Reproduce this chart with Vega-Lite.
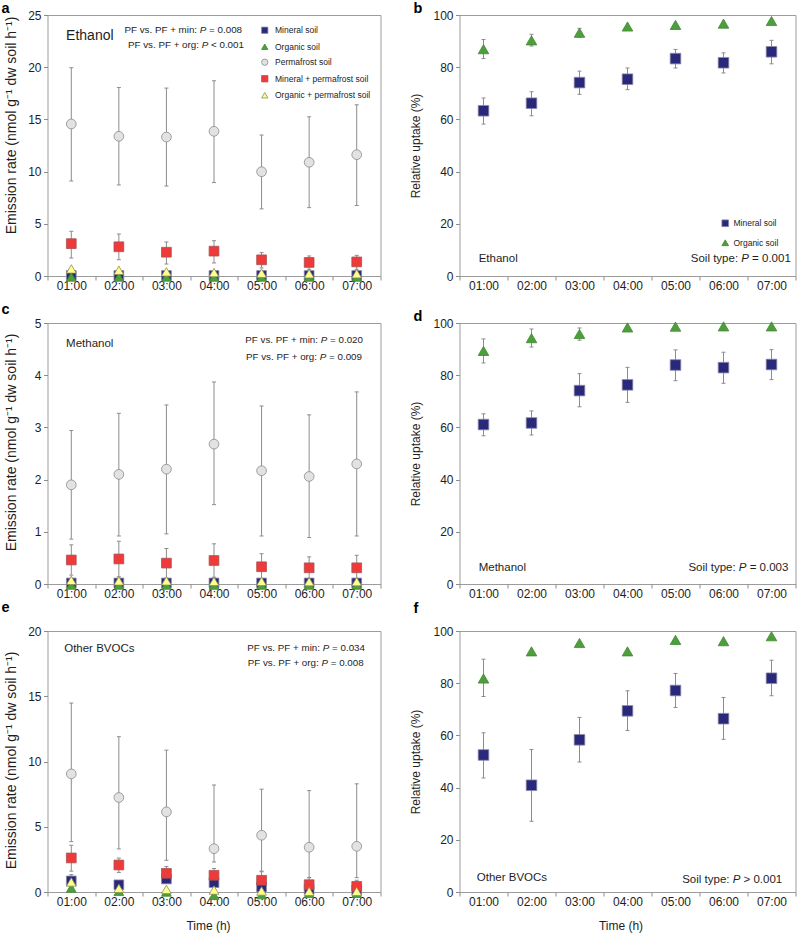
{
  "$schema": "https://vega.github.io/schema/vega-lite/v6.json",
  "padding": {"left": 0.5, "top": 0, "right": 4, "bottom": 2},
  "background": "white",
  "config": {
    "font": "Liberation Sans",
    "view": {"stroke": "#9c9c9c", "strokeWidth": 1},
    "axis": {"domain": false, "grid": false, "ticks": true, "tickColor": "#8c8c8c", "tickSize": 4, "tickWidth": 1, "labelFontSize": 12, "labelColor": "#1e1e1e", "labelPadding": 2.5, "titleFontSize": 12, "titleFontWeight": "normal", "titleColor": "#1e1e1e"},
    "text": {"color": "#1e1e1e", "font": "Liberation Sans"}
  },
  "datasets": {
    "pts": [
      {"panel":"a","series":"Mineral soil","hour":"01:00","mean":0.05,"lo":null,"hi":null},
      {"panel":"a","series":"Mineral soil","hour":"02:00","mean":0.05,"lo":null,"hi":null},
      {"panel":"a","series":"Mineral soil","hour":"03:00","mean":0.05,"lo":null,"hi":null},
      {"panel":"a","series":"Mineral soil","hour":"04:00","mean":0.05,"lo":null,"hi":null},
      {"panel":"a","series":"Mineral soil","hour":"05:00","mean":0.05,"lo":null,"hi":null},
      {"panel":"a","series":"Mineral soil","hour":"06:00","mean":0.05,"lo":null,"hi":null},
      {"panel":"a","series":"Mineral soil","hour":"07:00","mean":0.05,"lo":null,"hi":null},
      {"panel":"a","series":"Organic soil","hour":"01:00","mean":-0.1,"lo":null,"hi":null},
      {"panel":"a","series":"Organic soil","hour":"02:00","mean":-0.1,"lo":null,"hi":null},
      {"panel":"a","series":"Organic soil","hour":"03:00","mean":-0.1,"lo":null,"hi":null},
      {"panel":"a","series":"Organic soil","hour":"04:00","mean":-0.1,"lo":null,"hi":null},
      {"panel":"a","series":"Organic soil","hour":"05:00","mean":-0.1,"lo":null,"hi":null},
      {"panel":"a","series":"Organic soil","hour":"06:00","mean":-0.1,"lo":null,"hi":null},
      {"panel":"a","series":"Organic soil","hour":"07:00","mean":-0.1,"lo":null,"hi":null},
      {"panel":"a","series":"Permafrost soil","hour":"01:00","mean":14.56,"lo":9.1,"hi":19.95},
      {"panel":"a","series":"Permafrost soil","hour":"02:00","mean":13.38,"lo":8.72,"hi":18.05},
      {"panel":"a","series":"Permafrost soil","hour":"03:00","mean":13.31,"lo":8.62,"hi":18.0},
      {"panel":"a","series":"Permafrost soil","hour":"04:00","mean":13.86,"lo":8.95,"hi":18.7},
      {"panel":"a","series":"Permafrost soil","hour":"05:00","mean":9.99,"lo":6.43,"hi":13.5},
      {"panel":"a","series":"Permafrost soil","hour":"06:00","mean":10.89,"lo":6.55,"hi":15.25},
      {"panel":"a","series":"Permafrost soil","hour":"07:00","mean":11.62,"lo":6.75,"hi":16.4},
      {"panel":"a","series":"Mineral + permafrost soil","hour":"01:00","mean":3.1,"lo":1.72,"hi":4.28},
      {"panel":"a","series":"Mineral + permafrost soil","hour":"02:00","mean":2.8,"lo":1.56,"hi":4.02},
      {"panel":"a","series":"Mineral + permafrost soil","hour":"03:00","mean":2.28,"lo":1.15,"hi":3.26},
      {"panel":"a","series":"Mineral + permafrost soil","hour":"04:00","mean":2.38,"lo":1.25,"hi":3.38},
      {"panel":"a","series":"Mineral + permafrost soil","hour":"05:00","mean":1.55,"lo":0.77,"hi":2.24},
      {"panel":"a","series":"Mineral + permafrost soil","hour":"06:00","mean":1.3,"lo":0.64,"hi":1.92},
      {"panel":"a","series":"Mineral + permafrost soil","hour":"07:00","mean":1.35,"lo":0.64,"hi":1.98},
      {"panel":"a","series":"Organic + permafrost soil","hour":"01:00","mean":0.68,"lo":null,"hi":null},
      {"panel":"a","series":"Organic + permafrost soil","hour":"02:00","mean":0.55,"lo":null,"hi":null},
      {"panel":"a","series":"Organic + permafrost soil","hour":"03:00","mean":0.4,"lo":null,"hi":null},
      {"panel":"a","series":"Organic + permafrost soil","hour":"04:00","mean":0.33,"lo":null,"hi":null},
      {"panel":"a","series":"Organic + permafrost soil","hour":"05:00","mean":0.27,"lo":null,"hi":null},
      {"panel":"a","series":"Organic + permafrost soil","hour":"06:00","mean":0.22,"lo":null,"hi":null},
      {"panel":"a","series":"Organic + permafrost soil","hour":"07:00","mean":0.22,"lo":null,"hi":null},

      {"panel":"b","series":"Mineral soil","hour":"01:00","mean":63.3,"lo":58.2,"hi":68.2},
      {"panel":"b","series":"Mineral soil","hour":"02:00","mean":66.2,"lo":61.4,"hi":70.6},
      {"panel":"b","series":"Mineral soil","hour":"03:00","mean":74.1,"lo":69.6,"hi":78.5},
      {"panel":"b","series":"Mineral soil","hour":"04:00","mean":75.4,"lo":71.4,"hi":79.7},
      {"panel":"b","series":"Mineral soil","hour":"05:00","mean":83.3,"lo":79.7,"hi":86.8},
      {"panel":"b","series":"Mineral soil","hour":"06:00","mean":81.7,"lo":77.8,"hi":85.5},
      {"panel":"b","series":"Mineral soil","hour":"07:00","mean":85.9,"lo":81.3,"hi":90.3},
      {"panel":"b","series":"Organic soil","hour":"01:00","mean":86.9,"lo":83.3,"hi":90.6},
      {"panel":"b","series":"Organic soil","hour":"02:00","mean":90.3,"lo":88.1,"hi":92.6},
      {"panel":"b","series":"Organic soil","hour":"03:00","mean":93.2,"lo":91.5,"hi":94.9},
      {"panel":"b","series":"Organic soil","hour":"04:00","mean":95.6,"lo":null,"hi":null},
      {"panel":"b","series":"Organic soil","hour":"05:00","mean":96.2,"lo":null,"hi":null},
      {"panel":"b","series":"Organic soil","hour":"06:00","mean":96.7,"lo":null,"hi":null},
      {"panel":"b","series":"Organic soil","hour":"07:00","mean":97.7,"lo":null,"hi":null},

      {"panel":"c","series":"Mineral soil","hour":"01:00","mean":0.02,"lo":null,"hi":null},
      {"panel":"c","series":"Mineral soil","hour":"02:00","mean":0.02,"lo":null,"hi":null},
      {"panel":"c","series":"Mineral soil","hour":"03:00","mean":0.02,"lo":null,"hi":null},
      {"panel":"c","series":"Mineral soil","hour":"04:00","mean":0.02,"lo":null,"hi":null},
      {"panel":"c","series":"Mineral soil","hour":"05:00","mean":0.02,"lo":null,"hi":null},
      {"panel":"c","series":"Mineral soil","hour":"06:00","mean":0.02,"lo":null,"hi":null},
      {"panel":"c","series":"Mineral soil","hour":"07:00","mean":0.02,"lo":null,"hi":null},
      {"panel":"c","series":"Organic soil","hour":"01:00","mean":-0.02,"lo":null,"hi":null},
      {"panel":"c","series":"Organic soil","hour":"02:00","mean":-0.02,"lo":null,"hi":null},
      {"panel":"c","series":"Organic soil","hour":"03:00","mean":-0.02,"lo":null,"hi":null},
      {"panel":"c","series":"Organic soil","hour":"04:00","mean":-0.02,"lo":null,"hi":null},
      {"panel":"c","series":"Organic soil","hour":"05:00","mean":-0.02,"lo":null,"hi":null},
      {"panel":"c","series":"Organic soil","hour":"06:00","mean":-0.02,"lo":null,"hi":null},
      {"panel":"c","series":"Organic soil","hour":"07:00","mean":-0.02,"lo":null,"hi":null},
      {"panel":"c","series":"Permafrost soil","hour":"01:00","mean":1.9,"lo":0.86,"hi":2.94},
      {"panel":"c","series":"Permafrost soil","hour":"02:00","mean":2.1,"lo":0.92,"hi":3.27},
      {"panel":"c","series":"Permafrost soil","hour":"03:00","mean":2.2,"lo":0.96,"hi":3.43},
      {"panel":"c","series":"Permafrost soil","hour":"04:00","mean":2.68,"lo":1.52,"hi":3.87},
      {"panel":"c","series":"Permafrost soil","hour":"05:00","mean":2.17,"lo":0.92,"hi":3.41},
      {"panel":"c","series":"Permafrost soil","hour":"06:00","mean":2.06,"lo":0.89,"hi":3.24},
      {"panel":"c","series":"Permafrost soil","hour":"07:00","mean":2.3,"lo":0.92,"hi":3.68},
      {"panel":"c","series":"Mineral + permafrost soil","hour":"01:00","mean":0.46,"lo":0.17,"hi":0.75},
      {"panel":"c","series":"Mineral + permafrost soil","hour":"02:00","mean":0.48,"lo":0.14,"hi":0.82},
      {"panel":"c","series":"Mineral + permafrost soil","hour":"03:00","mean":0.4,"lo":0.11,"hi":0.68},
      {"panel":"c","series":"Mineral + permafrost soil","hour":"04:00","mean":0.45,"lo":0.13,"hi":0.77},
      {"panel":"c","series":"Mineral + permafrost soil","hour":"05:00","mean":0.33,"lo":0.1,"hi":0.58},
      {"panel":"c","series":"Mineral + permafrost soil","hour":"06:00","mean":0.31,"lo":0.09,"hi":0.52},
      {"panel":"c","series":"Mineral + permafrost soil","hour":"07:00","mean":0.31,"lo":0.08,"hi":0.55},
      {"panel":"c","series":"Organic + permafrost soil","hour":"01:00","mean":0.07,"lo":null,"hi":null},
      {"panel":"c","series":"Organic + permafrost soil","hour":"02:00","mean":0.06,"lo":null,"hi":null},
      {"panel":"c","series":"Organic + permafrost soil","hour":"03:00","mean":0.06,"lo":null,"hi":null},
      {"panel":"c","series":"Organic + permafrost soil","hour":"04:00","mean":0.05,"lo":null,"hi":null},
      {"panel":"c","series":"Organic + permafrost soil","hour":"05:00","mean":0.05,"lo":null,"hi":null},
      {"panel":"c","series":"Organic + permafrost soil","hour":"06:00","mean":0.045,"lo":null,"hi":null},
      {"panel":"c","series":"Organic + permafrost soil","hour":"07:00","mean":0.045,"lo":null,"hi":null},

      {"panel":"d","series":"Mineral soil","hour":"01:00","mean":61.1,"lo":56.8,"hi":65.2},
      {"panel":"d","series":"Mineral soil","hour":"02:00","mean":61.7,"lo":57.1,"hi":66.3},
      {"panel":"d","series":"Mineral soil","hour":"03:00","mean":74.1,"lo":67.9,"hi":80.6},
      {"panel":"d","series":"Mineral soil","hour":"04:00","mean":76.3,"lo":69.6,"hi":83.0},
      {"panel":"d","series":"Mineral soil","hour":"05:00","mean":83.9,"lo":77.9,"hi":89.7},
      {"panel":"d","series":"Mineral soil","hour":"06:00","mean":82.9,"lo":76.9,"hi":88.8},
      {"panel":"d","series":"Mineral soil","hour":"07:00","mean":84.1,"lo":78.3,"hi":89.8},
      {"panel":"d","series":"Organic soil","hour":"01:00","mean":89.3,"lo":84.7,"hi":93.9},
      {"panel":"d","series":"Organic soil","hour":"02:00","mean":94.2,"lo":90.8,"hi":97.7},
      {"panel":"d","series":"Organic soil","hour":"03:00","mean":95.8,"lo":93.4,"hi":98.1},
      {"panel":"d","series":"Organic soil","hour":"04:00","mean":98.3,"lo":null,"hi":null},
      {"panel":"d","series":"Organic soil","hour":"05:00","mean":98.6,"lo":null,"hi":null},
      {"panel":"d","series":"Organic soil","hour":"06:00","mean":98.7,"lo":null,"hi":null},
      {"panel":"d","series":"Organic soil","hour":"07:00","mean":98.7,"lo":null,"hi":null},

      {"panel":"e","series":"Mineral soil","hour":"01:00","mean":0.85,"lo":0.4,"hi":1.33},
      {"panel":"e","series":"Mineral soil","hour":"02:00","mean":0.55,"lo":null,"hi":null},
      {"panel":"e","series":"Mineral soil","hour":"03:00","mean":1.0,"lo":null,"hi":null},
      {"panel":"e","series":"Mineral soil","hour":"04:00","mean":0.72,"lo":null,"hi":null},
      {"panel":"e","series":"Mineral soil","hour":"05:00","mean":0.38,"lo":null,"hi":null},
      {"panel":"e","series":"Mineral soil","hour":"06:00","mean":0.2,"lo":null,"hi":null},
      {"panel":"e","series":"Mineral soil","hour":"07:00","mean":0.15,"lo":null,"hi":null},
      {"panel":"e","series":"Organic soil","hour":"01:00","mean":0.3,"lo":null,"hi":null},
      {"panel":"e","series":"Organic soil","hour":"02:00","mean":0.05,"lo":null,"hi":null},
      {"panel":"e","series":"Organic soil","hour":"03:00","mean":0.0,"lo":null,"hi":null},
      {"panel":"e","series":"Organic soil","hour":"04:00","mean":-0.25,"lo":null,"hi":null},
      {"panel":"e","series":"Organic soil","hour":"05:00","mean":-0.2,"lo":null,"hi":null},
      {"panel":"e","series":"Organic soil","hour":"06:00","mean":-0.1,"lo":null,"hi":null},
      {"panel":"e","series":"Organic soil","hour":"07:00","mean":-0.1,"lo":null,"hi":null},
      {"panel":"e","series":"Permafrost soil","hour":"01:00","mean":9.05,"lo":3.86,"hi":14.48},
      {"panel":"e","series":"Permafrost soil","hour":"02:00","mean":7.24,"lo":3.3,"hi":11.9},
      {"panel":"e","series":"Permafrost soil","hour":"03:00","mean":6.14,"lo":2.43,"hi":10.87},
      {"panel":"e","series":"Permafrost soil","hour":"04:00","mean":3.32,"lo":2.3,"hi":8.2},
      {"panel":"e","series":"Permafrost soil","hour":"05:00","mean":4.35,"lo":1.6,"hi":7.88},
      {"panel":"e","series":"Permafrost soil","hour":"06:00","mean":3.43,"lo":1.1,"hi":7.77},
      {"panel":"e","series":"Permafrost soil","hour":"07:00","mean":3.5,"lo":1.1,"hi":8.29},
      {"panel":"e","series":"Mineral + permafrost soil","hour":"01:00","mean":2.61,"lo":1.6,"hi":3.58},
      {"panel":"e","series":"Mineral + permafrost soil","hour":"02:00","mean":2.07,"lo":1.5,"hi":2.6},
      {"panel":"e","series":"Mineral + permafrost soil","hour":"03:00","mean":1.43,"lo":0.9,"hi":1.95},
      {"panel":"e","series":"Mineral + permafrost soil","hour":"04:00","mean":1.28,"lo":0.8,"hi":1.8},
      {"panel":"e","series":"Mineral + permafrost soil","hour":"05:00","mean":0.9,"lo":0.4,"hi":1.55},
      {"panel":"e","series":"Mineral + permafrost soil","hour":"06:00","mean":0.56,"lo":0.2,"hi":1.1},
      {"panel":"e","series":"Mineral + permafrost soil","hour":"07:00","mean":0.43,"lo":0.1,"hi":0.9},
      {"panel":"e","series":"Organic + permafrost soil","hour":"01:00","mean":0.77,"lo":null,"hi":null},
      {"panel":"e","series":"Organic + permafrost soil","hour":"02:00","mean":0.28,"lo":null,"hi":null},
      {"panel":"e","series":"Organic + permafrost soil","hour":"03:00","mean":0.2,"lo":null,"hi":null},
      {"panel":"e","series":"Organic + permafrost soil","hour":"04:00","mean":0.15,"lo":null,"hi":null},
      {"panel":"e","series":"Organic + permafrost soil","hour":"05:00","mean":0.08,"lo":null,"hi":null},
      {"panel":"e","series":"Organic + permafrost soil","hour":"06:00","mean":0.05,"lo":null,"hi":null},
      {"panel":"e","series":"Organic + permafrost soil","hour":"07:00","mean":0.05,"lo":null,"hi":null},

      {"panel":"f","series":"Mineral soil","hour":"01:00","mean":52.5,"lo":43.7,"hi":61.0},
      {"panel":"f","series":"Mineral soil","hour":"02:00","mean":40.9,"lo":27.1,"hi":54.6},
      {"panel":"f","series":"Mineral soil","hour":"03:00","mean":58.3,"lo":49.8,"hi":66.9},
      {"panel":"f","series":"Mineral soil","hour":"04:00","mean":69.4,"lo":61.9,"hi":77.1},
      {"panel":"f","series":"Mineral soil","hour":"05:00","mean":77.2,"lo":70.7,"hi":83.7},
      {"panel":"f","series":"Mineral soil","hour":"06:00","mean":66.4,"lo":58.5,"hi":74.5},
      {"panel":"f","series":"Mineral soil","hour":"07:00","mean":81.9,"lo":75.2,"hi":88.8},
      {"panel":"f","series":"Organic soil","hour":"01:00","mean":81.8,"lo":74.9,"hi":89.2},
      {"panel":"f","series":"Organic soil","hour":"02:00","mean":92.2,"lo":null,"hi":null},
      {"panel":"f","series":"Organic soil","hour":"03:00","mean":95.4,"lo":null,"hi":null},
      {"panel":"f","series":"Organic soil","hour":"04:00","mean":92.2,"lo":null,"hi":null},
      {"panel":"f","series":"Organic soil","hour":"05:00","mean":96.6,"lo":null,"hi":null},
      {"panel":"f","series":"Organic soil","hour":"06:00","mean":96.1,"lo":null,"hi":null},
      {"panel":"f","series":"Organic soil","hour":"07:00","mean":98.0,"lo":null,"hi":null}
    ]
  },
  "columns": 2,
  "bounds": "flush",
  "align": "each",
  "spacing": {"row": 47, "column": 79},
  "resolve": {"scale": {"shape": "independent", "fill": "independent", "stroke": "independent"}},
  "concat": [
    {
      "width": 333, "height": 261,
      "title": {"text": "a", "anchor": "start", "frame": "group", "dx": -46, "offset": -18.5, "fontSize": 14.5, "fontWeight": "bold", "baseline": "alphabetic", "color": "#000000"},
      "data": {"name": "pts"},
      "layer": [
        {"transform": [{"filter": "datum.panel === 'a'"}], "mark": {"type": "rule", "color": "#8c8c8c", "strokeWidth": 1},
         "encoding": {"x": {"field": "hour", "type": "ordinal"}, "y": {"field": "lo", "type": "quantitative"}, "y2": {"field": "hi"}}},
        {"transform": [{"filter": "datum.panel === 'a'"}], "mark": {"type": "tick", "orient": "horizontal", "size": 4, "thickness": 1, "color": "#8c8c8c", "opacity": 1},
         "encoding": {"x": {"field": "hour", "type": "ordinal"}, "y": {"field": "lo", "type": "quantitative"}}},
        {"transform": [{"filter": "datum.panel === 'a'"}], "mark": {"type": "tick", "orient": "horizontal", "size": 4, "thickness": 1, "color": "#8c8c8c", "opacity": 1},
         "encoding": {"x": {"field": "hour", "type": "ordinal"}, "y": {"field": "hi", "type": "quantitative"}}},
        {"transform": [{"filter": "datum.panel === 'a'"}], "mark": {"type": "point", "filled": true, "opacity": 1, "strokeWidth": 0.8, "size": 95},
         "encoding": {
           "x": {"field": "hour", "type": "ordinal", "scale": {"type": "band", "domain": ["01:00","02:00","03:00","04:00","05:00","06:00","07:00"], "paddingInner": 0, "paddingOuter": 0},
                 "axis": {"tickBand": "extent", "ticks": true, "tickSize": 4, "labelAngle": 0, "labelAlign": "center", "title": null, "labelPadding": 5}},
           "y": {"field": "mean", "type": "quantitative", "scale": {"domain": [0, 25], "nice": false, "zero": false},
                 "axis": {"values": [0,5,10,15,20,25], "title": "Emission rate (nmol g⁻¹ dw soil h⁻¹)", "titleFontSize": 14, "titleY": 110, "titlePadding": 9.5}},
           "shape": {"field": "series", "type": "nominal", "scale": {"domain": ["Mineral soil","Organic soil","Permafrost soil","Mineral + permafrost soil","Organic + permafrost soil"], "range": ["square","triangle-up","circle","square","triangle-up"]},
                     "legend": {"orient": "none", "legendX": 213, "legendY": 11, "title": null, "labelFontSize": 8.5, "labelColor": "#222222", "symbolSize": 40, "rowPadding": 5.5, "padding": 0, "labelOffset": 6, "symbolStrokeWidth": 0.8}},
           "fill": {"field": "series", "type": "nominal", "scale": {"domain": ["Mineral soil","Organic soil","Permafrost soil","Mineral + permafrost soil","Organic + permafrost soil"], "range": ["#29287a","#4f9e3e","#e2e2e2","#ee3a3a","#ffff8c"]},
                     "legend": {"orient": "none", "legendX": 213, "legendY": 11, "title": null, "labelFontSize": 8.5, "labelColor": "#222222", "symbolSize": 40, "rowPadding": 5.5, "padding": 0, "labelOffset": 6, "symbolStrokeWidth": 0.8}},
           "stroke": {"field": "series", "type": "nominal", "scale": {"domain": ["Mineral soil","Organic soil","Permafrost soil","Mineral + permafrost soil","Organic + permafrost soil"], "range": ["#8888aa","#3f8a30","#8a8a8a","#a85050","#8c8c5c"]},
                     "legend": {"orient": "none", "legendX": 213, "legendY": 11, "title": null, "labelFontSize": 8.5, "labelColor": "#222222", "symbolSize": 40, "rowPadding": 5.5, "padding": 0, "labelOffset": 6, "symbolStrokeWidth": 0.8}}
         }},
        {"data": {"values": [{"t": "Ethanol"}]}, "mark": {"type": "text", "align": "left", "baseline": "middle", "fontSize": 14, "dx": -5.2},
         "encoding": {"x": {"datum": "01:00", "type": "ordinal"}, "y": {"datum": 23.0, "type": "quantitative"}, "text": {"field": "t"}}},
        {"data": {"values": [{"t": "PF vs. PF + min:"}]}, "mark": {"type": "text", "align": "right", "baseline": "middle", "fontSize": 9.8, "dx": -16.9},
         "encoding": {"x": {"datum": "04:00", "type": "ordinal"}, "y": {"datum": 23.56, "type": "quantitative"}, "text": {"field": "t"}}},
        {"data": {"values": [{"t": "P"}]}, "mark": {"type": "text", "align": "center", "baseline": "middle", "fontSize": 9.8, "fontStyle": "italic", "dx": -10.9},
         "encoding": {"x": {"datum": "04:00", "type": "ordinal"}, "y": {"datum": 23.56, "type": "quantitative"}, "text": {"field": "t"}}},
        {"data": {"values": [{"t": "= 0.008"}]}, "mark": {"type": "text", "align": "left", "baseline": "middle", "fontSize": 9.8, "dx": -4.9},
         "encoding": {"x": {"datum": "04:00", "type": "ordinal"}, "y": {"datum": 23.56, "type": "quantitative"}, "text": {"field": "t"}}},
        {"data": {"values": [{"t": "PF vs. PF + org:"}]}, "mark": {"type": "text", "align": "right", "baseline": "middle", "fontSize": 9.8, "dx": -15.0},
         "encoding": {"x": {"datum": "04:00", "type": "ordinal"}, "y": {"datum": 22.13, "type": "quantitative"}, "text": {"field": "t"}}},
        {"data": {"values": [{"t": "P"}]}, "mark": {"type": "text", "align": "center", "baseline": "middle", "fontSize": 9.8, "fontStyle": "italic", "dx": -9.0},
         "encoding": {"x": {"datum": "04:00", "type": "ordinal"}, "y": {"datum": 22.13, "type": "quantitative"}, "text": {"field": "t"}}},
        {"data": {"values": [{"t": "< 0.001"}]}, "mark": {"type": "text", "align": "left", "baseline": "middle", "fontSize": 9.8, "dx": -3.0},
         "encoding": {"x": {"datum": "04:00", "type": "ordinal"}, "y": {"datum": 22.13, "type": "quantitative"}, "text": {"field": "t"}}}
      ]
    },
    {
      "width": 336, "height": 261,
      "title": {"text": "b", "anchor": "start", "frame": "group", "dx": -46, "offset": -18.5, "fontSize": 14.5, "fontWeight": "bold", "baseline": "alphabetic", "color": "#000000"},
      "data": {"name": "pts"},
      "layer": [
        {"transform": [{"filter": "datum.panel === 'b'"}], "mark": {"type": "rule", "color": "#8c8c8c", "strokeWidth": 1},
         "encoding": {"x": {"field": "hour", "type": "ordinal"}, "y": {"field": "lo", "type": "quantitative"}, "y2": {"field": "hi"}}},
        {"transform": [{"filter": "datum.panel === 'b'"}], "mark": {"type": "tick", "orient": "horizontal", "size": 4, "thickness": 1, "color": "#8c8c8c", "opacity": 1},
         "encoding": {"x": {"field": "hour", "type": "ordinal"}, "y": {"field": "lo", "type": "quantitative"}}},
        {"transform": [{"filter": "datum.panel === 'b'"}], "mark": {"type": "tick", "orient": "horizontal", "size": 4, "thickness": 1, "color": "#8c8c8c", "opacity": 1},
         "encoding": {"x": {"field": "hour", "type": "ordinal"}, "y": {"field": "hi", "type": "quantitative"}}},
        {"transform": [{"filter": "datum.panel === 'b'"}], "mark": {"type": "point", "filled": true, "opacity": 1, "strokeWidth": 0.8, "size": 112},
         "encoding": {
           "x": {"field": "hour", "type": "ordinal", "scale": {"type": "band", "domain": ["01:00","02:00","03:00","04:00","05:00","06:00","07:00"], "paddingInner": 0, "paddingOuter": 0},
                 "axis": {"tickBand": "extent", "ticks": true, "tickSize": 4, "labelAngle": 0, "labelAlign": "center", "title": null, "labelPadding": 5}},
           "y": {"field": "mean", "type": "quantitative", "scale": {"domain": [0, 100], "nice": false, "zero": false},
                 "axis": {"values": [0,20,40,60,80,100], "title": "Relative uptake (%)", "titlePadding": 10.5}},
           "shape": {"field": "series", "type": "nominal", "scale": {"domain": ["Mineral soil","Organic soil"], "range": ["square","triangle-up"]},
                     "legend": {"orient": "none", "legendX": 261.5, "legendY": 204, "title": null, "labelFontSize": 8.5, "labelColor": "#222222", "symbolSize": 45, "rowPadding": 8.5, "padding": 0, "labelOffset": 4, "symbolStrokeWidth": 0.8}},
           "fill": {"field": "series", "type": "nominal", "scale": {"domain": ["Mineral soil","Organic soil"], "range": ["#29287a","#4f9e3e"]},
                     "legend": {"orient": "none", "legendX": 261.5, "legendY": 204, "title": null, "labelFontSize": 8.5, "labelColor": "#222222", "symbolSize": 45, "rowPadding": 8.5, "padding": 0, "labelOffset": 4, "symbolStrokeWidth": 0.8}},
           "stroke": {"field": "series", "type": "nominal", "scale": {"domain": ["Mineral soil","Organic soil"], "range": ["#8888aa","#3f8a30"]},
                     "legend": {"orient": "none", "legendX": 261.5, "legendY": 204, "title": null, "labelFontSize": 8.5, "labelColor": "#222222", "symbolSize": 45, "rowPadding": 8.5, "padding": 0, "labelOffset": 4, "symbolStrokeWidth": 0.8}}
         }},
        {"data": {"values": [{"t": "Ethanol"}]}, "mark": {"type": "text", "align": "left", "baseline": "middle", "fontSize": 11.5, "dx": -4.8},
         "encoding": {"x": {"datum": "01:00", "type": "ordinal"}, "y": {"datum": 6.5, "type": "quantitative"}, "text": {"field": "t"}}},
        {"data": {"values": [{"t": "Soil type:"}]}, "mark": {"type": "text", "align": "right", "baseline": "middle", "fontSize": 11.5, "dx": 14.6},
         "encoding": {"x": {"datum": "06:00", "type": "ordinal"}, "y": {"datum": 6.5, "type": "quantitative"}, "text": {"field": "t"}}},
        {"data": {"values": [{"t": "P"}]}, "mark": {"type": "text", "align": "center", "baseline": "middle", "fontSize": 11.5, "fontStyle": "italic", "dx": 21.6},
         "encoding": {"x": {"datum": "06:00", "type": "ordinal"}, "y": {"datum": 6.5, "type": "quantitative"}, "text": {"field": "t"}}},
        {"data": {"values": [{"t": "= 0.001"}]}, "mark": {"type": "text", "align": "left", "baseline": "middle", "fontSize": 11.5, "dx": 28.6},
         "encoding": {"x": {"datum": "06:00", "type": "ordinal"}, "y": {"datum": 6.5, "type": "quantitative"}, "text": {"field": "t"}}}
      ]
    },
    {
      "width": 333, "height": 261,
      "title": {"text": "c", "anchor": "start", "frame": "group", "dx": -46, "offset": -11, "fontSize": 14.5, "fontWeight": "bold", "baseline": "alphabetic", "color": "#000000"},
      "data": {"name": "pts"},
      "layer": [
        {"transform": [{"filter": "datum.panel === 'c'"}], "mark": {"type": "rule", "color": "#8c8c8c", "strokeWidth": 1},
         "encoding": {"x": {"field": "hour", "type": "ordinal"}, "y": {"field": "lo", "type": "quantitative"}, "y2": {"field": "hi"}}},
        {"transform": [{"filter": "datum.panel === 'c'"}], "mark": {"type": "tick", "orient": "horizontal", "size": 4, "thickness": 1, "color": "#8c8c8c", "opacity": 1},
         "encoding": {"x": {"field": "hour", "type": "ordinal"}, "y": {"field": "lo", "type": "quantitative"}}},
        {"transform": [{"filter": "datum.panel === 'c'"}], "mark": {"type": "tick", "orient": "horizontal", "size": 4, "thickness": 1, "color": "#8c8c8c", "opacity": 1},
         "encoding": {"x": {"field": "hour", "type": "ordinal"}, "y": {"field": "hi", "type": "quantitative"}}},
        {"transform": [{"filter": "datum.panel === 'c'"}], "mark": {"type": "point", "filled": true, "opacity": 1, "strokeWidth": 0.8, "size": 95},
         "encoding": {
           "x": {"field": "hour", "type": "ordinal", "scale": {"type": "band", "domain": ["01:00","02:00","03:00","04:00","05:00","06:00","07:00"], "paddingInner": 0, "paddingOuter": 0},
                 "axis": {"tickBand": "extent", "ticks": true, "tickSize": 4, "labelAngle": 0, "labelAlign": "center", "title": null, "labelPadding": 5}},
           "y": {"field": "mean", "type": "quantitative", "scale": {"domain": [0, 5], "nice": false, "zero": false},
                 "axis": {"values": [0,1,2,3,4,5], "title": "Emission rate (nmol g⁻¹ dw soil h⁻¹)", "titleFontSize": 14, "titleY": 119, "titlePadding": 16}},
           "shape": {"field": "series", "type": "nominal", "scale": {"domain": ["Mineral soil","Organic soil","Permafrost soil","Mineral + permafrost soil","Organic + permafrost soil"], "range": ["square","triangle-up","circle","square","triangle-up"]}, "legend": null},
           "fill": {"field": "series", "type": "nominal", "scale": {"domain": ["Mineral soil","Organic soil","Permafrost soil","Mineral + permafrost soil","Organic + permafrost soil"], "range": ["#29287a","#4f9e3e","#e2e2e2","#ee3a3a","#ffff8c"]}, "legend": null},
           "stroke": {"field": "series", "type": "nominal", "scale": {"domain": ["Mineral soil","Organic soil","Permafrost soil","Mineral + permafrost soil","Organic + permafrost soil"], "range": ["#8888aa","#3f8a30","#8a8a8a","#a85050","#8c8c5c"]}, "legend": null}
         }},
        {"data": {"values": [{"t": "Methanol"}]}, "mark": {"type": "text", "align": "left", "baseline": "middle", "fontSize": 11.5, "dx": -5.2},
         "encoding": {"x": {"datum": "01:00", "type": "ordinal"}, "y": {"datum": 4.6, "type": "quantitative"}, "text": {"field": "t"}}},
        {"data": {"values": [{"t": "PF vs. PF + min:"}]}, "mark": {"type": "text", "align": "right", "baseline": "middle", "fontSize": 9.8, "dx": -38.7},
         "encoding": {"x": {"datum": "07:00", "type": "ordinal"}, "y": {"datum": 4.67, "type": "quantitative"}, "text": {"field": "t"}}},
        {"data": {"values": [{"t": "P"}]}, "mark": {"type": "text", "align": "center", "baseline": "middle", "fontSize": 9.8, "fontStyle": "italic", "dx": -32.7},
         "encoding": {"x": {"datum": "07:00", "type": "ordinal"}, "y": {"datum": 4.67, "type": "quantitative"}, "text": {"field": "t"}}},
        {"data": {"values": [{"t": "= 0.020"}]}, "mark": {"type": "text", "align": "left", "baseline": "middle", "fontSize": 9.8, "dx": -26.7},
         "encoding": {"x": {"datum": "07:00", "type": "ordinal"}, "y": {"datum": 4.67, "type": "quantitative"}, "text": {"field": "t"}}},
        {"data": {"values": [{"t": "PF vs. PF + org:"}]}, "mark": {"type": "text", "align": "right", "baseline": "middle", "fontSize": 9.8, "dx": -39.7},
         "encoding": {"x": {"datum": "07:00", "type": "ordinal"}, "y": {"datum": 4.35, "type": "quantitative"}, "text": {"field": "t"}}},
        {"data": {"values": [{"t": "P"}]}, "mark": {"type": "text", "align": "center", "baseline": "middle", "fontSize": 9.8, "fontStyle": "italic", "dx": -33.7},
         "encoding": {"x": {"datum": "07:00", "type": "ordinal"}, "y": {"datum": 4.35, "type": "quantitative"}, "text": {"field": "t"}}},
        {"data": {"values": [{"t": "= 0.009"}]}, "mark": {"type": "text", "align": "left", "baseline": "middle", "fontSize": 9.8, "dx": -27.7},
         "encoding": {"x": {"datum": "07:00", "type": "ordinal"}, "y": {"datum": 4.35, "type": "quantitative"}, "text": {"field": "t"}}}
      ]
    },
    {
      "width": 336, "height": 261,
      "title": {"text": "d", "anchor": "start", "frame": "group", "dx": -46, "offset": -18, "fontSize": 14.5, "fontWeight": "bold", "baseline": "alphabetic", "color": "#000000"},
      "data": {"name": "pts"},
      "layer": [
        {"transform": [{"filter": "datum.panel === 'd'"}], "mark": {"type": "rule", "color": "#8c8c8c", "strokeWidth": 1},
         "encoding": {"x": {"field": "hour", "type": "ordinal"}, "y": {"field": "lo", "type": "quantitative"}, "y2": {"field": "hi"}}},
        {"transform": [{"filter": "datum.panel === 'd'"}], "mark": {"type": "tick", "orient": "horizontal", "size": 4, "thickness": 1, "color": "#8c8c8c", "opacity": 1},
         "encoding": {"x": {"field": "hour", "type": "ordinal"}, "y": {"field": "lo", "type": "quantitative"}}},
        {"transform": [{"filter": "datum.panel === 'd'"}], "mark": {"type": "tick", "orient": "horizontal", "size": 4, "thickness": 1, "color": "#8c8c8c", "opacity": 1},
         "encoding": {"x": {"field": "hour", "type": "ordinal"}, "y": {"field": "hi", "type": "quantitative"}}},
        {"transform": [{"filter": "datum.panel === 'd'"}], "mark": {"type": "point", "filled": true, "opacity": 1, "strokeWidth": 0.8, "size": 112},
         "encoding": {
           "x": {"field": "hour", "type": "ordinal", "scale": {"type": "band", "domain": ["01:00","02:00","03:00","04:00","05:00","06:00","07:00"], "paddingInner": 0, "paddingOuter": 0},
                 "axis": {"tickBand": "extent", "ticks": true, "tickSize": 4, "labelAngle": 0, "labelAlign": "center", "title": null, "labelPadding": 5}},
           "y": {"field": "mean", "type": "quantitative", "scale": {"domain": [0, 100], "nice": false, "zero": false},
                 "axis": {"values": [0,20,40,60,80,100], "title": "Relative uptake (%)", "titlePadding": 10.5}},
           "shape": {"field": "series", "type": "nominal", "scale": {"domain": ["Mineral soil","Organic soil"], "range": ["square","triangle-up"]}, "legend": null},
           "fill": {"field": "series", "type": "nominal", "scale": {"domain": ["Mineral soil","Organic soil"], "range": ["#29287a","#4f9e3e"]}, "legend": null},
           "stroke": {"field": "series", "type": "nominal", "scale": {"domain": ["Mineral soil","Organic soil"], "range": ["#8888aa","#3f8a30"]}, "legend": null}
         }},
        {"data": {"values": [{"t": "Methanol"}]}, "mark": {"type": "text", "align": "left", "baseline": "middle", "fontSize": 11.5, "dx": -4.8},
         "encoding": {"x": {"datum": "01:00", "type": "ordinal"}, "y": {"datum": 6.1, "type": "quantitative"}, "text": {"field": "t"}}},
        {"data": {"values": [{"t": "Soil type:"}]}, "mark": {"type": "text", "align": "right", "baseline": "middle", "fontSize": 11.5, "dx": 12.2},
         "encoding": {"x": {"datum": "06:00", "type": "ordinal"}, "y": {"datum": 6.1, "type": "quantitative"}, "text": {"field": "t"}}},
        {"data": {"values": [{"t": "P"}]}, "mark": {"type": "text", "align": "center", "baseline": "middle", "fontSize": 11.5, "fontStyle": "italic", "dx": 19.2},
         "encoding": {"x": {"datum": "06:00", "type": "ordinal"}, "y": {"datum": 6.1, "type": "quantitative"}, "text": {"field": "t"}}},
        {"data": {"values": [{"t": "= 0.003"}]}, "mark": {"type": "text", "align": "left", "baseline": "middle", "fontSize": 11.5, "dx": 26.2},
         "encoding": {"x": {"datum": "06:00", "type": "ordinal"}, "y": {"datum": 6.1, "type": "quantitative"}, "text": {"field": "t"}}}
      ]
    },
    {
      "width": 333, "height": 261,
      "title": {"text": "e", "anchor": "start", "frame": "group", "dx": -46, "offset": -1, "fontSize": 14.5, "fontWeight": "bold", "baseline": "alphabetic", "color": "#000000"},
      "data": {"name": "pts"},
      "layer": [
        {"transform": [{"filter": "datum.panel === 'e'"}], "mark": {"type": "rule", "color": "#8c8c8c", "strokeWidth": 1},
         "encoding": {"x": {"field": "hour", "type": "ordinal"}, "y": {"field": "lo", "type": "quantitative"}, "y2": {"field": "hi"}}},
        {"transform": [{"filter": "datum.panel === 'e'"}], "mark": {"type": "tick", "orient": "horizontal", "size": 4, "thickness": 1, "color": "#8c8c8c", "opacity": 1},
         "encoding": {"x": {"field": "hour", "type": "ordinal"}, "y": {"field": "lo", "type": "quantitative"}}},
        {"transform": [{"filter": "datum.panel === 'e'"}], "mark": {"type": "tick", "orient": "horizontal", "size": 4, "thickness": 1, "color": "#8c8c8c", "opacity": 1},
         "encoding": {"x": {"field": "hour", "type": "ordinal"}, "y": {"field": "hi", "type": "quantitative"}}},
        {"transform": [{"filter": "datum.panel === 'e'"}], "mark": {"type": "point", "filled": true, "opacity": 1, "strokeWidth": 0.8, "size": 95},
         "encoding": {
           "x": {"field": "hour", "type": "ordinal", "scale": {"type": "band", "domain": ["01:00","02:00","03:00","04:00","05:00","06:00","07:00"], "paddingInner": 0, "paddingOuter": 0},
                 "axis": {"tickBand": "extent", "ticks": true, "tickSize": 4, "labelAngle": 0, "labelAlign": "center", "title": "Time (h)", "titleFontSize": 12, "titlePadding": 13, "titleX": 160.5, "labelPadding": 5}},
           "y": {"field": "mean", "type": "quantitative", "scale": {"domain": [0, 20], "nice": false, "zero": false},
                 "axis": {"values": [0,5,10,15,20], "title": "Emission rate (nmol g⁻¹ dw soil h⁻¹)", "titleFontSize": 14, "titleY": 129, "titlePadding": 9.5}},
           "shape": {"field": "series", "type": "nominal", "scale": {"domain": ["Mineral soil","Organic soil","Permafrost soil","Mineral + permafrost soil","Organic + permafrost soil"], "range": ["square","triangle-up","circle","square","triangle-up"]}, "legend": null},
           "fill": {"field": "series", "type": "nominal", "scale": {"domain": ["Mineral soil","Organic soil","Permafrost soil","Mineral + permafrost soil","Organic + permafrost soil"], "range": ["#29287a","#4f9e3e","#e2e2e2","#ee3a3a","#ffff8c"]}, "legend": null},
           "stroke": {"field": "series", "type": "nominal", "scale": {"domain": ["Mineral soil","Organic soil","Permafrost soil","Mineral + permafrost soil","Organic + permafrost soil"], "range": ["#8888aa","#3f8a30","#8a8a8a","#a85050","#8c8c5c"]}, "legend": null}
         }},
        {"data": {"values": [{"t": "Other BVOCs"}]}, "mark": {"type": "text", "align": "left", "baseline": "middle", "fontSize": 11.5, "dx": -7.1},
         "encoding": {"x": {"datum": "01:00", "type": "ordinal"}, "y": {"datum": 18.6, "type": "quantitative"}, "text": {"field": "t"}}},
        {"data": {"values": [{"t": "PF vs. PF + min:"}]}, "mark": {"type": "text", "align": "right", "baseline": "middle", "fontSize": 9.8, "dx": -36.7},
         "encoding": {"x": {"datum": "07:00", "type": "ordinal"}, "y": {"datum": 18.67, "type": "quantitative"}, "text": {"field": "t"}}},
        {"data": {"values": [{"t": "P"}]}, "mark": {"type": "text", "align": "center", "baseline": "middle", "fontSize": 9.8, "fontStyle": "italic", "dx": -30.7},
         "encoding": {"x": {"datum": "07:00", "type": "ordinal"}, "y": {"datum": 18.67, "type": "quantitative"}, "text": {"field": "t"}}},
        {"data": {"values": [{"t": "= 0.034"}]}, "mark": {"type": "text", "align": "left", "baseline": "middle", "fontSize": 9.8, "dx": -24.7},
         "encoding": {"x": {"datum": "07:00", "type": "ordinal"}, "y": {"datum": 18.67, "type": "quantitative"}, "text": {"field": "t"}}},
        {"data": {"values": [{"t": "PF vs. PF + org:"}]}, "mark": {"type": "text", "align": "right", "baseline": "middle", "fontSize": 9.8, "dx": -38.0},
         "encoding": {"x": {"datum": "07:00", "type": "ordinal"}, "y": {"datum": 17.52, "type": "quantitative"}, "text": {"field": "t"}}},
        {"data": {"values": [{"t": "P"}]}, "mark": {"type": "text", "align": "center", "baseline": "middle", "fontSize": 9.8, "fontStyle": "italic", "dx": -32.0},
         "encoding": {"x": {"datum": "07:00", "type": "ordinal"}, "y": {"datum": 17.52, "type": "quantitative"}, "text": {"field": "t"}}},
        {"data": {"values": [{"t": "= 0.008"}]}, "mark": {"type": "text", "align": "left", "baseline": "middle", "fontSize": 9.8, "dx": -26.0},
         "encoding": {"x": {"datum": "07:00", "type": "ordinal"}, "y": {"datum": 17.52, "type": "quantitative"}, "text": {"field": "t"}}}
      ]
    },
    {
      "width": 336, "height": 261,
      "title": {"text": "f", "anchor": "start", "frame": "group", "dx": -46, "offset": -2, "fontSize": 14.5, "fontWeight": "bold", "baseline": "alphabetic", "color": "#000000"},
      "data": {"name": "pts"},
      "layer": [
        {"transform": [{"filter": "datum.panel === 'f'"}], "mark": {"type": "rule", "color": "#8c8c8c", "strokeWidth": 1},
         "encoding": {"x": {"field": "hour", "type": "ordinal"}, "y": {"field": "lo", "type": "quantitative"}, "y2": {"field": "hi"}}},
        {"transform": [{"filter": "datum.panel === 'f'"}], "mark": {"type": "tick", "orient": "horizontal", "size": 4, "thickness": 1, "color": "#8c8c8c", "opacity": 1},
         "encoding": {"x": {"field": "hour", "type": "ordinal"}, "y": {"field": "lo", "type": "quantitative"}}},
        {"transform": [{"filter": "datum.panel === 'f'"}], "mark": {"type": "tick", "orient": "horizontal", "size": 4, "thickness": 1, "color": "#8c8c8c", "opacity": 1},
         "encoding": {"x": {"field": "hour", "type": "ordinal"}, "y": {"field": "hi", "type": "quantitative"}}},
        {"transform": [{"filter": "datum.panel === 'f'"}], "mark": {"type": "point", "filled": true, "opacity": 1, "strokeWidth": 0.8, "size": 112},
         "encoding": {
           "x": {"field": "hour", "type": "ordinal", "scale": {"type": "band", "domain": ["01:00","02:00","03:00","04:00","05:00","06:00","07:00"], "paddingInner": 0, "paddingOuter": 0},
                 "axis": {"tickBand": "extent", "ticks": true, "tickSize": 4, "labelAngle": 0, "labelAlign": "center", "title": "Time (h)", "titleFontSize": 12, "titlePadding": 13, "titleX": 161, "labelPadding": 5}},
           "y": {"field": "mean", "type": "quantitative", "scale": {"domain": [0, 100], "nice": false, "zero": false},
                 "axis": {"values": [0,20,40,60,80,100], "title": "Relative uptake (%)", "titlePadding": 10.5}},
           "shape": {"field": "series", "type": "nominal", "scale": {"domain": ["Mineral soil","Organic soil"], "range": ["square","triangle-up"]}, "legend": null},
           "fill": {"field": "series", "type": "nominal", "scale": {"domain": ["Mineral soil","Organic soil"], "range": ["#29287a","#4f9e3e"]}, "legend": null},
           "stroke": {"field": "series", "type": "nominal", "scale": {"domain": ["Mineral soil","Organic soil"], "range": ["#8888aa","#3f8a30"]}, "legend": null}
         }},
        {"data": {"values": [{"t": "Other BVOCs"}]}, "mark": {"type": "text", "align": "left", "baseline": "middle", "fontSize": 11.5, "dx": -6.7},
         "encoding": {"x": {"datum": "01:00", "type": "ordinal"}, "y": {"datum": 5.4, "type": "quantitative"}, "text": {"field": "t"}}},
        {"data": {"values": [{"t": "Soil type:"}]}, "mark": {"type": "text", "align": "right", "baseline": "middle", "fontSize": 11.5, "dx": 6.0},
         "encoding": {"x": {"datum": "06:00", "type": "ordinal"}, "y": {"datum": 4.6, "type": "quantitative"}, "text": {"field": "t"}}},
        {"data": {"values": [{"t": "P"}]}, "mark": {"type": "text", "align": "center", "baseline": "middle", "fontSize": 11.5, "fontStyle": "italic", "dx": 13.0},
         "encoding": {"x": {"datum": "06:00", "type": "ordinal"}, "y": {"datum": 4.6, "type": "quantitative"}, "text": {"field": "t"}}},
        {"data": {"values": [{"t": "> 0.001"}]}, "mark": {"type": "text", "align": "left", "baseline": "middle", "fontSize": 11.5, "dx": 20.0},
         "encoding": {"x": {"datum": "06:00", "type": "ordinal"}, "y": {"datum": 4.6, "type": "quantitative"}, "text": {"field": "t"}}}
      ]
    }
  ]
}
